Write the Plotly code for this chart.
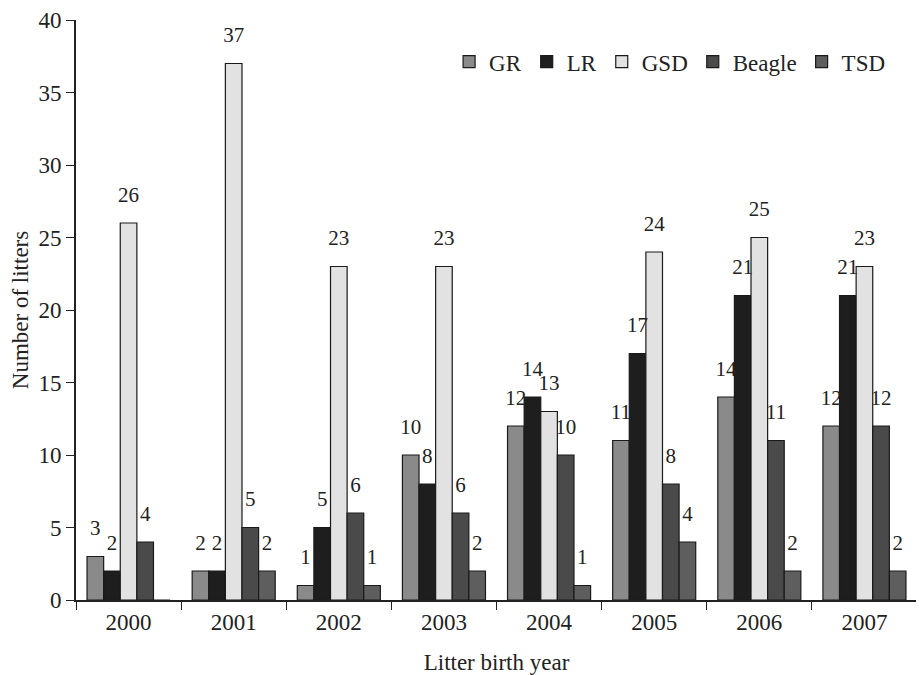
import plotly.graph_objects as go

years = ["2000", "2001", "2002", "2003", "2004", "2005", "2006", "2007"]
series_names = ["GR", "LR", "GSD", "Beagle", "TSD"]
gr = [3, 2, 1, 10, 12, 11, 14, 12]
lr = [2, 2, 5, 8, 14, 17, 21, 21]
gsd = [26, 37, 23, 23, 13, 24, 25, 23]
beagle = [4, 5, 6, 6, 10, 8, 11, 12]
tsd = [0, 2, 1, 2, 1, 4, 2, 2]
y_ticks = [0, 5, 10, 15, 20, 25, 30, 35, 40]

colors = ["#8a8a8a", "#1e1e1e", "#e2e2e2", "#4a4a4a", "#5e5e5e"]
values = [gr, lr, gsd, beagle, tsd]

FONT = "Liberation Serif"
FS = 23

fig = go.Figure()
for name, vals, col in zip(series_names, values, colors):
    fig.add_trace(go.Bar(
        name=name, x=years, y=vals, offsetgroup=name,
        marker=dict(color=col, line=dict(color="#1a1a1a", width=1.2)),
    ))
for name, vals in zip(series_names, values):
    fig.add_trace(go.Scatter(
        x=years, y=vals, offsetgroup=name, mode="markers+text", showlegend=False,
        marker=dict(size=24, opacity=0),
        text=[str(v) if v else "" for v in vals],
        textposition="top center",
        cliponaxis=False, hoverinfo="skip",
        textfont=dict(family=FONT, size=21, color="#222222"),
    ))

fig.update_layout(
    width=916, height=667,
    margin=dict(l=68, r=7, t=12, b=75),
    paper_bgcolor="white", plot_bgcolor="white",
    barmode="group", bargap=0.21, bargroupgap=0,
    scattermode="group", scattergap=0.21,
    font=dict(family=FONT, size=FS, color="#222222"),
    showlegend=True,
    legend=dict(orientation="h", x=0.968, y=0.928, xanchor="right", yanchor="middle",
                font=dict(family=FONT, size=FS), itemwidth=30,
                bgcolor="rgba(0,0,0,0)"),
    xaxis=dict(showline=True, linecolor="#222222", linewidth=2, automargin=False,
               ticks="outside", tickson="boundaries", ticklen=8, tickcolor="#222222",
               tickfont=dict(family=FONT, size=FS),
               title=dict(text="Litter birth year", font=dict(family=FONT, size=FS), standoff=20)),
    yaxis=dict(range=[0, 40], tickvals=y_ticks, showline=True, linecolor="#222222", linewidth=2,
               automargin=False,
               ticks="outside", ticklen=8, tickcolor="#222222", showgrid=False, zeroline=False,
               tickfont=dict(family=FONT, size=FS),
               title=dict(text="Number of litters", font=dict(family=FONT, size=FS), standoff=14)),
)

fig.write_html("out.html")
